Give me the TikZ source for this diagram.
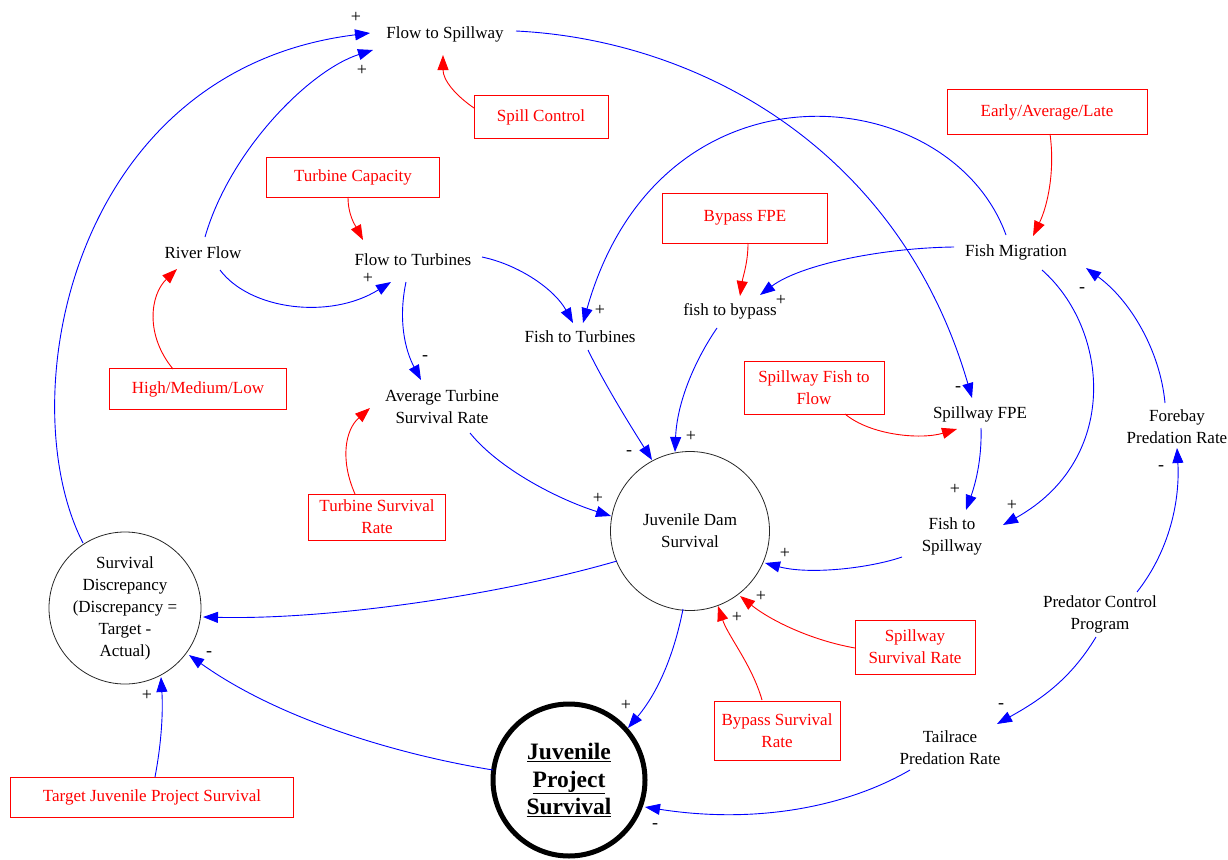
\documentclass[tikz,border=0pt]{standalone}
\usepackage{fontspec}
\setmainfont{Liberation Serif}
\usetikzlibrary{arrows.meta,calc,shapes.geometric}
\begin{document}
\begin{tikzpicture}[x=1pt,y=-1pt,
  txt/.style={inner sep=0pt, align=center, font=\fontsize{17}{22}\selectfont},
  rbox/.style={draw=red, text=red, line width=0.9pt, align=center, inner sep=0pt, font=\fontsize{17}{22}\selectfont},
  pol/.style={inner sep=0pt, font=\fontsize{18}{18}\selectfont},
  barr/.style={draw=blue, line width=0.9pt, -{Triangle[length=15pt,width=11pt]}, fill=none},
  rarr/.style={draw=red, line width=0.9pt, -{Triangle[length=15pt,width=11pt]}, fill=none},
  ring/.style={circle, draw=black!85, line width=0.8pt, inner sep=0pt, align=center, font=\fontsize{17}{22}\selectfont}
]
\path[use as bounding box] (0,0) rectangle (1228,859);

% variables
\node[txt] (fs) at (445,34) {Flow to Spillway};
\node[txt] (rf) at (203,253) {River Flow};
\node[txt] (ft) at (413,260) {Flow to Turbines};
\node[txt] (atsr) at (442,407) {Average Turbine\\Survival Rate};
\node[txt] (ftt) at (580,337) {Fish to Turbines};
\node[txt] (ftb) at (730,311) {fish to bypass};
\node[txt] (fm) at (1016,252) {Fish Migration};
\node[txt] (sfpe) at (980,414) {Spillway FPE};
\node[txt] (fpr) at (1177,427) {Forebay\\Predation Rate};
\node[txt] (fts) at (952,536) {Fish to\\Spillway};
\node[txt] (pcp) at (1100,614) {Predator Control\\Program};
\node[txt] (tpr) at (950,748) {Tailrace\\Predation Rate};

% circles
\node[ring, minimum size=159pt] (jds) at (690,531) {Juvenile Dam\\Survival};
\node[ring, minimum size=152pt] (sd) at (125,608) {Survival\\Discrepancy\\(Discrepancy =\\Target -\\Actual)};
\node[circle, draw=black, line width=5pt, minimum size=152pt, inner sep=0pt, align=center,
      font=\fontsize{23.5}{27.5}\selectfont\bfseries] (jps) at (569,780)
      {\underline{Juvenile}\\\underline{Project}\\\underline{Survival}};

% red boxes
\node[rbox, minimum width=134pt, minimum height=43pt] (sc) at (541,117) {Spill Control};
\node[rbox, minimum width=173pt, minimum height=40pt] (tc) at (353,177) {Turbine Capacity};
\node[rbox, minimum width=177pt, minimum height=41pt] (hml) at (198,389) {High/Medium/Low};
\node[rbox, minimum width=137pt, minimum height=46pt] (tsr) at (377,517) {Turbine Survival\\Rate};
\node[rbox, minimum width=165pt, minimum height=50pt] (bfpe) at (745,218) {Bypass FPE};
\node[rbox, minimum width=200pt, minimum height=45pt] (eal) at (1047,112) {Early/Average/Late};
\node[rbox, minimum width=140pt, minimum height=53pt] (sftf) at (814,388) {Spillway Fish to\\Flow};
\node[rbox, minimum width=283pt, minimum height=40pt] (tjps) at (152,797) {Target Juvenile Project Survival};
\node[rbox, minimum width=126pt, minimum height=59pt] (bsr) at (777,731) {Bypass Survival\\Rate};
\node[rbox, minimum width=120pt, minimum height=54pt] (ssr) at (915,647) {Spillway\\Survival Rate};

% connectors
\draw[barr] ($(sd)+(-42,-65)$) .. controls +(-73,-143) and +(-300,37) .. ($(fs)+(-75,-1)$);
\draw[barr] ($(rf)+(2,-16)$) .. controls +(25,-87) and +(-63,20) .. ($(fs)+(-72,16)$);
\draw[rarr] ($(sc)+(-67,-9)$) .. controls +(-19,-13) and +(0,25) .. ($(fs)+(-2,21)$);
\draw[rarr] ($(tc)+(-5,20)$) .. controls +(0,18) and +(-8,-15) .. ($(ft)+(-50,-20)$);
\draw[barr] ($(rf)+(17,17)$) .. controls +(30,40) and +(-61,38) .. ($(ft)+(-22,22)$);
\draw[rarr] ($(hml)+(-25,-20)$) .. controls +(-28,-34) and +(-27,26) .. ($(rf)+(-26,16)$);
\draw[barr] ($(ft)+(-7,22)$) .. controls +(-8,38) and +(-16,-30) .. ($(atsr)+(-21,-27)$);
\draw[barr] ($(ft)+(69,-3)$) .. controls +(38,8) and +(-18,-33) .. ($(ftt)+(-7,-14)$);
\draw[barr] ($(fm)+(-10,-17)$) .. controls +(-56,-155) and +(77,-273) .. ($(ftt)+(3,-14)$);
\draw[rarr] ($(bfpe)+(3,25)$) .. controls +(0,20) and +(3,-20) .. ($(ftb)+(10,-15)$);
\draw[barr] ($(fm)+(-62,-5)$) .. controls +(-74,1) and +(40,-30) .. ($(ftb)+(30,-16)$);
\draw[rarr] ($(eal)+(3,22)$) .. controls +(5,36) and +(15,-31) .. ($(fm)+(17,-16)$);
\draw[barr] ($(ftb)+(-13,17)$) .. controls +(-22,32) and +(2,-50) .. ($(jds)+(-15,-79)$);
\draw[barr] ($(ftt)+(8,13)$) .. controls +(17,35) and +(-22,-35) .. ($(jds)+(-38,-71)$);
\draw[barr] ($(atsr)+(28,26)$) .. controls +(30,37) and +(-51,-16) .. ($(jds)+(-79,-15)$);
\draw[rarr] ($(tsr)+(-22,-23)$) .. controls +(-15,-34) and +(-25,22) .. ($(atsr)+(-72,1)$);
\draw[barr] ($(jds)+(-73,30)$) .. controls +(-117,34) and +(127,3) .. ($(sd)+(78,9)$);
\draw[barr] ($(jps)+(-76,-10)$) .. controls +(-93,-15) and +(91,65) .. ($(sd)+(64,47)$);
\draw[barr] ($(tjps)+(3,-20)$) .. controls +(7,-37) and +(2,33) .. ($(sd)+(36,69)$);
\draw[barr] ($(fs)+(71,-3)$) .. controls +(184,9) and +(-72,-248) .. ($(sfpe)+(-8,-16)$);
\draw[rarr] ($(sftf)+(31,26)$) .. controls +(25,21) and +(-37,11) .. ($(sfpe)+(-23,15)$);
\draw[barr] ($(sfpe)+(1,14)$) .. controls +(1,32) and +(9,-25) .. ($(fts)+(14,-26)$);
\draw[barr] ($(fm)+(26,18)$) .. controls +(68,60) and +(117,-65) .. ($(fts)+(51,-11)$);
\draw[barr] ($(fpr)+(-12,-24)$) .. controls +(-5,-53) and +(44,32) .. ($(fm)+(70,16)$);
\draw[barr] ($(pcp)+(37,-22)$) .. controls +(33,-42) and +(3,52) .. ($(fpr)+(0,21)$);
\draw[barr] ($(pcp)+(-4,23)$) .. controls +(-26,43) and +(43,-24) .. ($(tpr)+(47,-24)$);
\draw[barr] ($(tpr)+(-40,22)$) .. controls +(-60,35) and +(115,18) .. ($(jps)+(76,27)$);
\draw[barr] ($(fts)+(-50,21)$) .. controls +(-32,11) and +(45,12) .. ($(jds)+(75,32)$);
\draw[rarr] ($(ssr)+(-60,1)$) .. controls +(-45,-8) and +(30,24) .. ($(jds)+(50,65)$);
\draw[rarr] ($(bsr)+(-15,-31)$) .. controls +(-10,-35) and +(10,30) .. ($(jds)+(28,75)$);
\draw[barr] ($(jds)+(-7,78)$) .. controls +(-8,41) and +(32,-38) .. ($(jps)+(59,-52)$);

% polarity labels
\node[pol] (p1) at (356,17) {+};
\node[pol] (p2) at (362,70) {+};
\node[pol] (p3) at (368,278) {+};
\node[pol] (p4) at (425,358) {-};
\node[pol] (p5) at (600,310) {+};
\node[pol] (p6) at (781,300) {+};
\node[pol] (p7) at (691,436) {+};
\node[pol] (p8) at (629,453) {-};
\node[pol] (p9) at (598,498) {+};
\node[pol] (p10) at (958,389) {-};
\node[pol] (p11) at (955,489) {+};
\node[pol] (p12) at (1012,505) {+};
\node[pol] (p13) at (1082,290) {-};
\node[pol] (p14) at (1161,468) {-};
\node[pol] (p15) at (1001,706) {-};
\node[pol] (p16) at (655,826) {-};
\node[pol] (p17) at (626,705) {+};
\node[pol] (p18) at (785,553) {+};
\node[pol] (p19) at (761,596) {+};
\node[pol] (p20) at (737,617) {+};
\node[pol] (p21) at (147,695) {+};
\node[pol] (p22) at (209,654) {-};
\end{tikzpicture}
\end{document}
